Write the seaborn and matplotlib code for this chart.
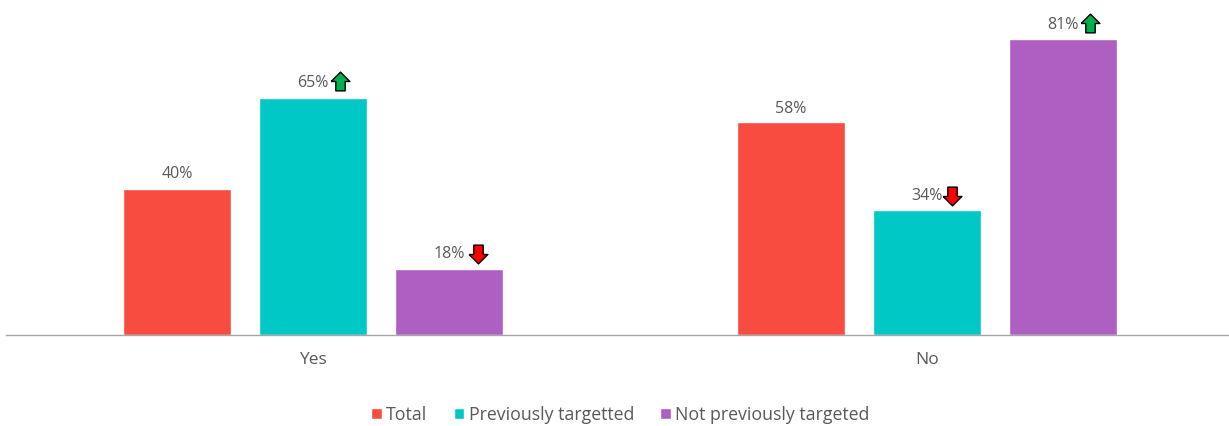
import matplotlib
matplotlib.use("Agg")
import matplotlib.pyplot as plt
import pandas as pd
import seaborn as sns

answers = ["Yes", "No"]
segments = ["Total", "Previously targetted", "Not previously targeted"]
# labels show whole percents, bar heights read a little finer
total = [40, 58.4]
previously = [65, 34.4]
not_previously = [18, 81.2]
# significance arrows per segment: 1 up, -1 down, 0 none
sig_total = [0, 0]
sig_previously = [1, -1]
sig_not_previously = [-1, 1]

colors = ["#F84C40", "#00C9C5", "#AE5FC2"]
text_color = "#595959"

df = pd.DataFrame({
    "answer": answers * 3,
    "segment": [s for s in segments for _ in answers],
    "value": total + previously + not_previously,
    "sig": sig_total + sig_previously + sig_not_previously,
})

sns.set_style("white")
plt.rcParams["font.family"] = ["Open Sans", "DejaVu Sans"]

fig = plt.figure(figsize=(12.29, 4.26), dpi=100)
ax = fig.add_axes([6 / 1229, 1 - 335 / 426, 1223 / 1229, 335 / 426])

sns.barplot(data=df, x="answer", y="value", hue="segment", order=answers,
            hue_order=segments, palette=colors, width=0.6645, gap=0.2,
            saturation=1, legend=True, ax=ax)

ax.set_xlim(-0.5, 1.492)
ax.set_ylim(0, 92.0)
ax.set_xlabel("")
ax.set_ylabel("")
ax.set_yticks([])
ax.tick_params(axis="x", length=0, labelsize=12.5, labelcolor=text_color, pad=12)
sns.despine(ax=ax, left=True)
ax.spines["bottom"].set_color("#A6A6A6")
ax.spines["bottom"].set_linewidth(1)

# arrow shapes for the significance markers
up = [(-1, 0), (0, 1), (1, 0), (0.5, 0), (0.5, -1), (-0.5, -1), (-0.5, 0), (-1, 0)]
down = [(x, -y) for x, y in up]
# arrow distance from the bar centre in px, the 34% one sits tight against its label
arrow_dx = [0, 0, 27, 25, 29, 27]

bars = [b for c in ax.containers for b in c]
for bar, value, sig, dx in zip(bars, df["value"], df["sig"], arrow_dx):
    cx = bar.get_x() + bar.get_width() / 2
    ax.annotate(f"{value:.0f}%", (cx, round(value)), xytext=(0, 7), textcoords="offset pixels",
                ha="center", va="bottom", fontsize=11.5, color=text_color)
    if sig != 0:
        ax.plot([cx + dx / 614], [round(value) + (17 if sig > 0 else 15) / 3.64],
                marker=up if sig > 0 else down, markersize=13.5,
                markerfacecolor="#00B050" if sig > 0 else "#FF0000",
                markeredgecolor="black", markeredgewidth=1, linestyle="none",
                clip_on=False)

handles, labels = ax.get_legend_handles_labels()
ax.legend(handles, labels, loc="center", bbox_to_anchor=(620.5 / 1229, 11 / 426),
          bbox_transform=fig.transFigure, ncol=3, frameon=False, fontsize=12.8,
          labelcolor=text_color, handlelength=0.6, handleheight=0.6,
          handletextpad=0.25, columnspacing=1.47)

fig.savefig("out.png", dpi=100)
